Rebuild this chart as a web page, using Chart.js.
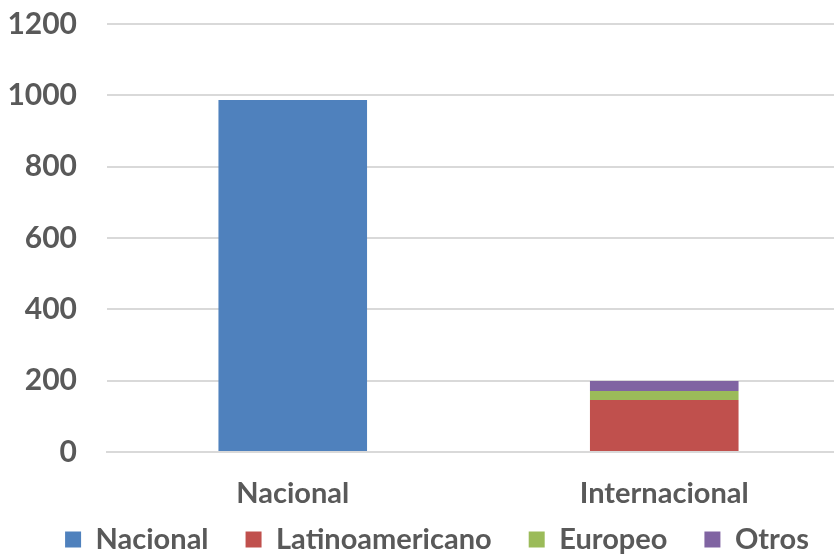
<!DOCTYPE html>
<html>
<head>
<meta charset="utf-8">
<script src="https://cdn.jsdelivr.net/npm/chart.js@4"></script>
<style>
    html, body { margin: 0; padding: 0; background: #fff; overflow: hidden; }
    #wrap { width: 850px; height: 598px; position: relative; }
</style>
</head>
<body>
<div id="wrap"><canvas id="chart-bars"></canvas></div>
<script>
const categories = ['Nacional', 'Internacional'];
const nacional = [987, null];
const latinoamericano = [null, 146];
const europeo = [null, 25];
const otros = [null, 28];
const yTicks = [0, 200, 400, 600, 800, 1000, 1200];

const fontFamily = 'Lato';
const textColor = '#595959';

function makeSet(label, data, color) {
    return {
        label: label,
        data: data,
        backgroundColor: color,
        borderWidth: 0,
        barPercentage: 0.4,
        categoryPercentage: 1.0,
        skipNull: true
    };
}

// pull the legend up close under the axis labels
const legendShift = {
    id: 'legendShift',
    afterLayout(chart) {
        const lg = chart.legend;
        const h = lg.height;
        lg.top = chart.chartArea.bottom + 36;
        lg.bottom = lg.top + h;
        lg.left += 12;
        lg.right += 12;
    }
};

var ctx = document.getElementById('chart-bars').getContext('2d');
new Chart(ctx, {
    type: 'bar',
    data: {
        labels: categories,
        datasets: [
            makeSet('Nacional', nacional, '#4F81BD'),
            makeSet('Latinoamericano', latinoamericano, '#C0504D'),
            makeSet('Europeo', europeo, '#9BBB59'),
            makeSet('Otros', otros, '#8064A2')
        ]
    },
    options: {
        responsive: true,
        maintainAspectRatio: false,
        animation: false,
        layout: { padding: { top: 24, bottom: 0, left: 0, right: 0 } },
        plugins: {
            legend: {
                position: 'bottom',
                labels: {
                    boxWidth: 16,
                    boxHeight: 16,
                    padding: 37,
                    color: textColor,
                    font: { family: fontFamily, size: 29, weight: 'bold' }
                }
            },
            tooltip: { enabled: false }
        },
        scales: {
            x: {
                stacked: true,
                afterFit: function (axis) { axis.height = 70; },
                grid: { display: false, drawTicks: false },
                border: { color: '#d9d9d9', width: 2 },
                ticks: {
                    padding: 24,
                    color: textColor,
                    font: { family: fontFamily, size: 29, weight: 'bold' }
                }
            },
            y: {
                stacked: true,
                min: 0,
                max: 1200,
                afterBuildTicks: function (axis) {
                    axis.ticks = yTicks.map(v => ({ value: v }));
                },
                afterFit: function (axis) {
                    axis.width = 107;
                    axis.paddingTop = 0;
                    axis.paddingBottom = 0;
                },
                grid: { color: '#d9d9d9', lineWidth: 2, drawTicks: false },
                border: { display: false },
                ticks: {
                    padding: 30,
                    color: textColor,
                    font: { family: fontFamily, size: 30, weight: 'bold' },
                    callback: function (v) { return String(v); }
                }
            }
        }
    },
    plugins: [legendShift]
});
</script>
</body>
</html>
